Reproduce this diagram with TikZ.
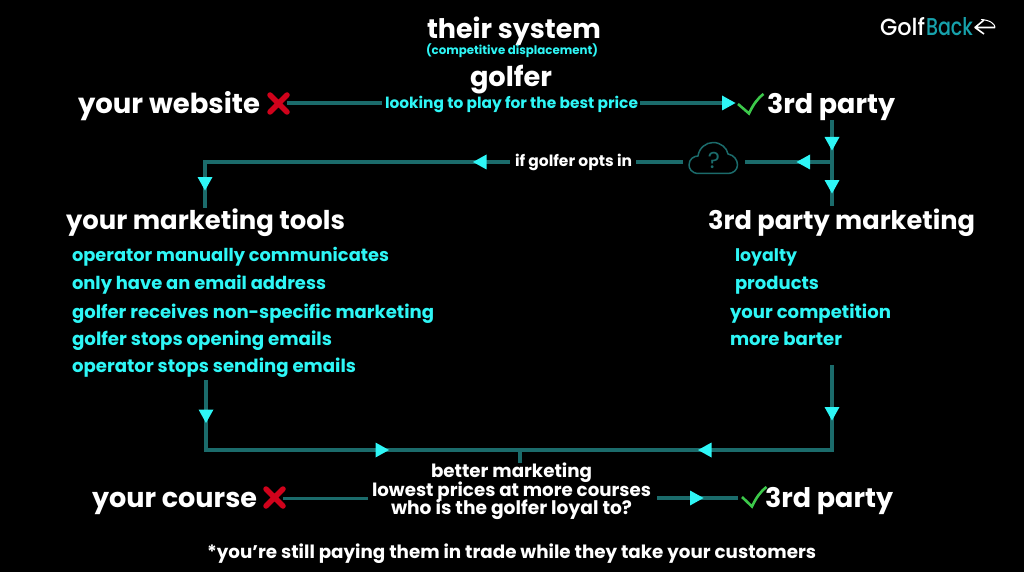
\documentclass[tikz,border=0pt]{standalone}
\usepackage{fontspec}
\usepackage{graphicx}
\setmainfont{Poppins}
\newfontfamily\logofont{Poppins Medium}
\definecolor{wire}{HTML}{1B6B6B}
\definecolor{aqua}{HTML}{2EF6F6}
\definecolor{xred}{HTML}{D0021B}
\definecolor{okgreen}{HTML}{3CC84A}
\definecolor{logoteal}{HTML}{17A2AC}
\newcommand{\fitw}[2]{\resizebox{#1pt}{!}{\bfseries #2}}
\tikzset{
  wireline/.style={draw=wire,line width=3.3pt},
  lab/.style={anchor=base west,inner sep=0pt,outer sep=0pt},
  big/.style={lab,text=white},
  cy/.style={lab,text=aqua},
  pics/tip/.style={code={\fill[aqua] (-6.5,-7.5) -- (7,0) -- (-6.5,7.5) -- cycle;}},
  crossmark/.style={draw=xred,line width=5.5pt,line cap=round},
  tickmark/.style={draw=okgreen,line width=2.6pt,line join=miter}
}
\begin{document}
\begin{tikzpicture}[x=1pt,y=-1pt]
\path[use as bounding box,fill=black] (0,0) rectangle (1024,572);
% labels
\node[big] (tsys) at (427,38.5) {\fitw{174}{their system}};
\node[cy] (comp) at (426,55) {\fitw{172}{(competitive displacement)}};
\node[big] (golfer) at (470,87) {\fitw{82}{golfer}};
\node[big] (web) at (78,114) {\fitw{182}{your website}};
\node[cy] (look) at (385,109) {\fitw{253}{looking to play for the best price}};
\node[big] (tp1) at (767,114) {\fitw{128}{3rd party}};
\node[lab,text=white] (opts) at (515,167) {\fitw{117}{if golfer opts in}};
\node[big] (mt) at (66,229) {\fitw{279}{your marketing tools}};
\node[big] (tpm) at (708,229) {\fitw{267}{3rd party marketing}};
\node[cy] (l1) at (72,261) {\fitw{317}{operator manually communicates}};
\node[cy] (l2) at (72,289) {\fitw{254}{only have an email address}};
\node[cy] (l3) at (72,318) {\fitw{362}{golfer receives non-specific marketing}};
\node[cy] (l4) at (72,345) {\fitw{260}{golfer stops opening emails}};
\node[cy] (l5) at (72,372) {\fitw{284}{operator stops sending emails}};
\node[cy] (r1) at (735,261) {\fitw{62}{loyalty}};
\node[cy] (r2) at (735,289) {\fitw{84}{products}};
\node[cy] (r3) at (730,318) {\fitw{161}{your competition}};
\node[cy] (r4) at (730,345) {\fitw{112}{more barter}};
\node[big] (bm) at (431,477) {\fitw{161}{better marketing}};
\node[big] (lp) at (372,496) {\fitw{279}{lowest prices at more courses}};
\node[big] (wl) at (391,514) {\fitw{241}{who is the golfer loyal to?}};
\node[big] (crs) at (92,507) {\fitw{165}{your course}};
\node[big] (tp2) at (765,507) {\fitw{128}{3rd party}};
\node[big] (foot) at (207,558) {\fitw{609}{*you're still paying them in trade while they take your customers}};
% logo
\node[lab,text=white] (lg1) at (880,36) {\resizebox{45pt}{18pt}{\logofont Golf}};
\node[lab,text=logoteal] (lg2) at (926,36) {\resizebox{47pt}{18pt}{\logofont Back}};
\draw[white,line width=1.6pt,line join=round] (995,27.5) -- (975,27.5) -- (984,20) (975,27.5) -- (984,34);
\draw[white,line width=1pt] (981,19.5) .. controls (990,20) and (995,24) .. (995,27.5);
% connector anchors
\coordinate (w1a) at (287,103); \coordinate (w1b) at (382,103);
\coordinate (w2a) at (640,103); \coordinate (w2b) at (728,103);
\coordinate (dnA) at (832,120); \coordinate (dnB) at (832,206);
\coordinate (brA) at (832,162); \coordinate (brB) at (745,162);
\coordinate (opA) at (683,162); \coordinate (opB) at (636,162);
\coordinate (lfA) at (510,162); \coordinate (lfC) at (205,162); \coordinate (lfB) at (205,208);
\coordinate (dlA) at (206,380); \coordinate (dlC) at (206,450);
\coordinate (drA) at (832,365); \coordinate (drC) at (832,450);
\coordinate (stA) at (520,450); \coordinate (stB) at (520,463);
\coordinate (b1a) at (283,498.5); \coordinate (b1b) at (368,498.5);
\coordinate (b2a) at (657,498); \coordinate (b2b) at (738,498);
% connectors
\draw[wireline] (w1a) -- (w1b);
\draw[wireline] (w2a) -- (w2b);
\draw[wireline] (dnA) -- (dnB);
\draw[wireline] (brA) -- (brB);
\draw[wireline] (opA) -- (opB);
\draw[wireline] (lfA) -- (lfC) -- (lfB);
\draw[wireline] (dlA) -- (dlC) -- (drC) -- (drA);
\draw[wireline] (stA) -- (stB);
\draw[wireline] (b1a) -- (b1b);
\draw[wireline] (b2a) -- (b2b);
% arrowheads
\pic at (728.5,103) {tip};
\pic[rotate=-90] at (832,143.5) {tip};
\pic[rotate=-90] at (832,186.5) {tip};
\pic[rotate=180] at (803.5,162) {tip};
\pic[rotate=180] at (480,162) {tip};
\pic[rotate=-90] at (205,183.5) {tip};
\pic[rotate=-90] at (206,416) {tip};
\pic[rotate=-90] at (832,413.5) {tip};
\pic at (382,450) {tip};
\pic[rotate=180] at (705,450) {tip};
\pic at (696.5,498) {tip};
% crosses
\draw[crossmark] (270,95) -- (287,112) (287,95) -- (270,112);
\draw[crossmark] (266,489) -- (283,506) (283,489) -- (266,506);
% ticks
\draw[tickmark] (738,104) -- (749,113.5) .. controls (753,105) and (757,99) .. (763.5,94);
\draw[tickmark] (742,497) -- (752,506.5) .. controls (756,498) and (760,492) .. (766.5,487);
% cloud
\draw[wire,line width=1.5pt,line join=round] (699,173.5) .. controls (691,173.5) and (689,168) .. (689,165) .. controls (689,159) and (694,156) .. (698,156) .. controls (699,148) and (706,142.5) .. (713,142.5) .. controls (721,142.5) and (727,148) .. (728,154) .. controls (734,155) and (737.5,160) .. (737.5,165) .. controls (737.5,170) and (733,173.5) .. (728,173.5) -- cycle;
\node[text=wire,inner sep=0pt] (qm) at (714,160) {\fontsize{23}{23}\selectfont ?};
\end{tikzpicture}
\end{document}
